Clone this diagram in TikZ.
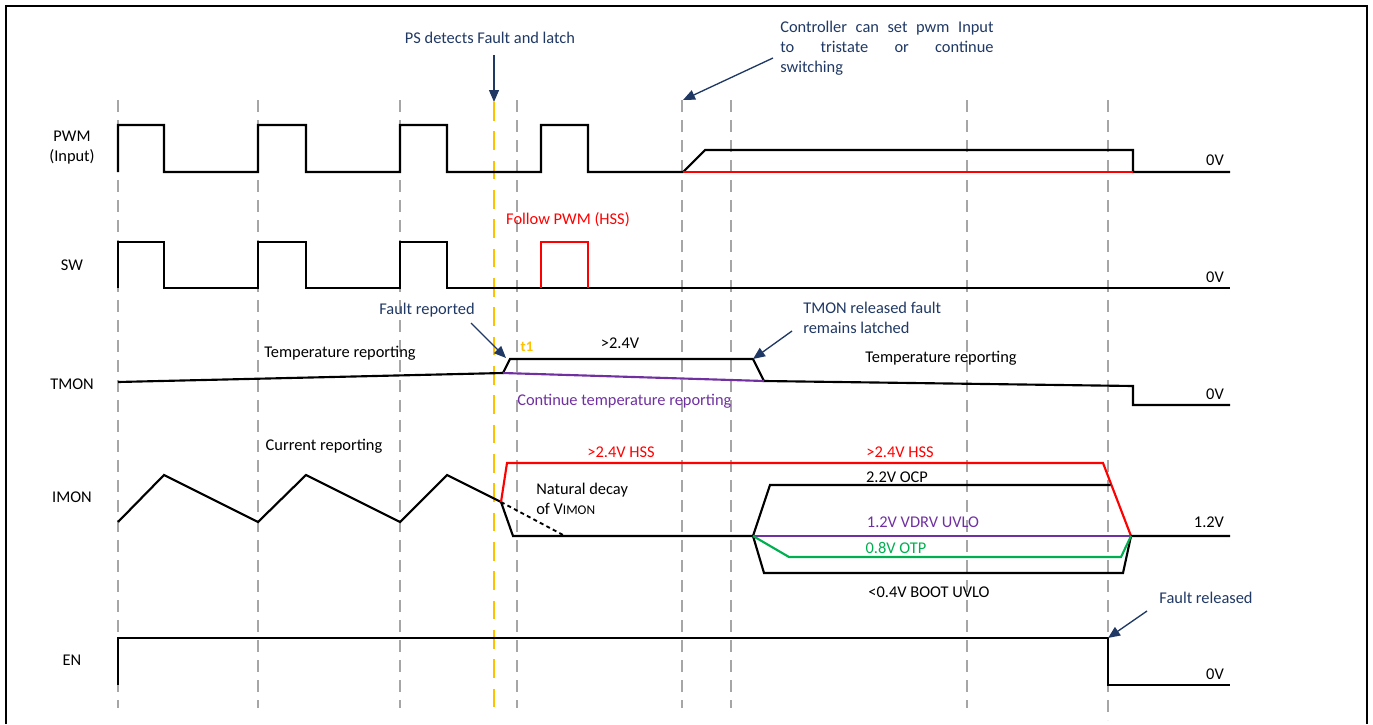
\documentclass[tikz,border=0pt]{standalone}
\usepackage{fontspec}
\setmainfont{Carlito}
\usetikzlibrary{arrows.meta}
\definecolor{navy}{HTML}{1F3864}
\definecolor{gridgray}{HTML}{A6A6A6}
\definecolor{faultyellow}{HTML}{FFC000}
\definecolor{sigred}{HTML}{FF0000}
\definecolor{sigpurple}{HTML}{7030A0}
\definecolor{siggreen}{HTML}{00B050}
\newcommand\mainfs{\fontsize{12.3}{15}\selectfont}
\begin{document}
\begin{tikzpicture}[x=0.75pt,y=-0.75pt,
  every node/.style={inner sep=0pt, font=\mainfs},
  sig/.style={line width=1.6pt, line join=miter},
  gridline/.style={draw=gridgray, line width=0.8pt, dash pattern=on 9pt off 6pt},
  faultline/.style={draw=faultyellow, line width=2.2pt, dash pattern=on 14pt off 8pt},
  note/.style={text=navy},
  notearrow/.style={draw=navy, line width=1pt, -{Triangle[length=9pt,width=7.5pt]}},
  siglabel/.style={anchor=center, align=center}
]
\useasboundingbox (0,0) rectangle (1373,724);
% frame
\draw[line width=1.5pt] (6,724) -- (6,6) -- (1367,6) -- (1367,724);
% grid
\foreach \gx in {118,258,400,517,682,731,967}{
  \draw[gridline] (\gx,100) -- (\gx,708);
}
\draw[gridline] (1108,100) -- (1108,720);
\draw[faultline] (494,102) -- (494,712);

% signal names
\node[siglabel] (lPWM) at (72,148) {PWM\\(Input)};
\node[siglabel] (lSW) at (72,265) {SW};
\node[siglabel] (lTMON) at (72,384) {TMON};
\node[siglabel] (lIMON) at (72,497) {IMON};
\node[siglabel] (lEN) at (72,660) {EN};

% right levels
\node (vPWM) at (1215,160) {0V};
\node (vSW) at (1215,277) {0V};
\node (vTMON) at (1215,394) {0V};
\node (vIMON) at (1209,522) {1.2V};
\node (vEN) at (1215,674) {0V};

% PWM
\draw[sig] (118,172) -- (118,125) -- (164,125) -- (164,172) -- (258,172) -- (258,125) -- (306,125) -- (306,172)
  -- (400,172) -- (400,125) -- (447,125) -- (447,172) -- (541,172) -- (541,125) -- (588,125) -- (588,172)
  -- (683,172) -- (705,150) -- (1133,150) -- (1133,172) -- (1230,172);
\draw[sig,sigred] (683,172) -- (1133,172);

% SW
\draw[sig] (118,288) -- (118,242) -- (164,242) -- (164,288) -- (258,288) -- (258,242) -- (306,242) -- (306,288)
  -- (400,288) -- (400,242) -- (447,242) -- (447,288) -- (1230,288);
\draw[sig,sigred] (541,288) -- (541,242) -- (588,242) -- (588,288);
\node[text=sigred] (followPWM) at (568,220) {Follow PWM (HSS)};

% TMON
\draw[sig] (118,382) -- (503,373) -- (510,359) -- (753,359) -- (764,381) -- (1133,386) -- (1133,405) -- (1230,405);
\draw[sig,sigpurple] (503,373) -- (764,381);
\node (tempL) at (340,353) {Temperature reporting};
\node (tempR) at (941,358) {Temperature reporting};
\node (gt24) at (620,343) {>2.4V};
\node[text=faultyellow,font=\fontsize{11}{13}\selectfont\bfseries] (t1) at (527,347) {t1};
\node[text=sigpurple,anchor=west] (contTemp) at (517,401) {Continue temperature reporting};

% IMON
\draw[sig] (118,522) -- (164,475) -- (258,522) -- (306,475) -- (400,522) -- (447,475) -- (501,502) -- (513,536) -- (753,536);
\draw[line width=1.4pt, dash pattern=on 3pt off 2.5pt] (501,502) -- (565,536);
\draw[sig,sigred] (501,502) -- (507,463) -- (1103,463) -- (1131,536);
\draw[sig] (1110.6,485) -- (770,485) -- (753,536) -- (764,573) -- (1123,573) -- (1131,536) -- (1230,536);
\draw[sig,sigpurple] (753,536) -- (1131,536);
\draw[sig,siggreen] (753,536) -- (789,557) -- (1121,557) -- (1131,536);
\node (curRep) at (324,446) {Current reporting};
\node[anchor=west,align=left] (natDecay) at (536,499) {Natural decay\\of V{\fontsize{10}{12}\selectfont IMON}};
\node[text=sigred] (hss1) at (621,452) {>2.4V HSS};
\node[text=sigred] (hss2) at (900,452) {>2.4V HSS};
\node (ocp) at (897,477) {2.2V OCP};
\node[text=sigpurple] (vdrv) at (923,522) {1.2V VDRV UVLO};
\node[text=siggreen] (otp) at (896,548) {0.8V OTP};
\node (boot) at (929,592) {<0.4V BOOT UVLO};

% EN
\draw[sig] (118,685) -- (118,638) -- (1108,638) -- (1108,685) -- (1230,685);

% annotations
\node[note] (psNote) at (490,38) {PS detects Fault and latch};
\coordinate (psTail) at (494,55);
\coordinate (psTip) at (494,102);
\draw[notearrow] (psTail) -- (psTip);

\node[note,anchor=north west,align=left] (ctrlNote) at (780,21)
  {\hbox to 160pt{Controller\hfill can\hfill set\hfill pwm\hfill Input}\\\hbox to 160pt{to\hfill tristate\hfill or\hfill continue}\\switching};
\coordinate (ctrlTail) at (773,58);
\coordinate (ctrlTip) at (683,100);
\draw[notearrow] (ctrlTail) -- (ctrlTip);

\node[note] (faultRep) at (427,310) {Fault reported};
\coordinate (frTail) at (471,323);
\coordinate (frTip) at (506,358);
\draw[notearrow] (frTail) -- (frTip);

\node[note,anchor=west,align=left] (tmonRel) at (803,318) {TMON released fault\\remains latched};
\coordinate (trTail) at (792,331);
\coordinate (trTip) at (753,359);
\draw[notearrow] (trTail) -- (trTip);

\node[note] (faultRel) at (1206,598) {Fault released};
\coordinate (flTail) at (1147,611);
\coordinate (flTip) at (1108,638);
\draw[notearrow] (flTail) -- (flTip);
\end{tikzpicture}
\end{document}
